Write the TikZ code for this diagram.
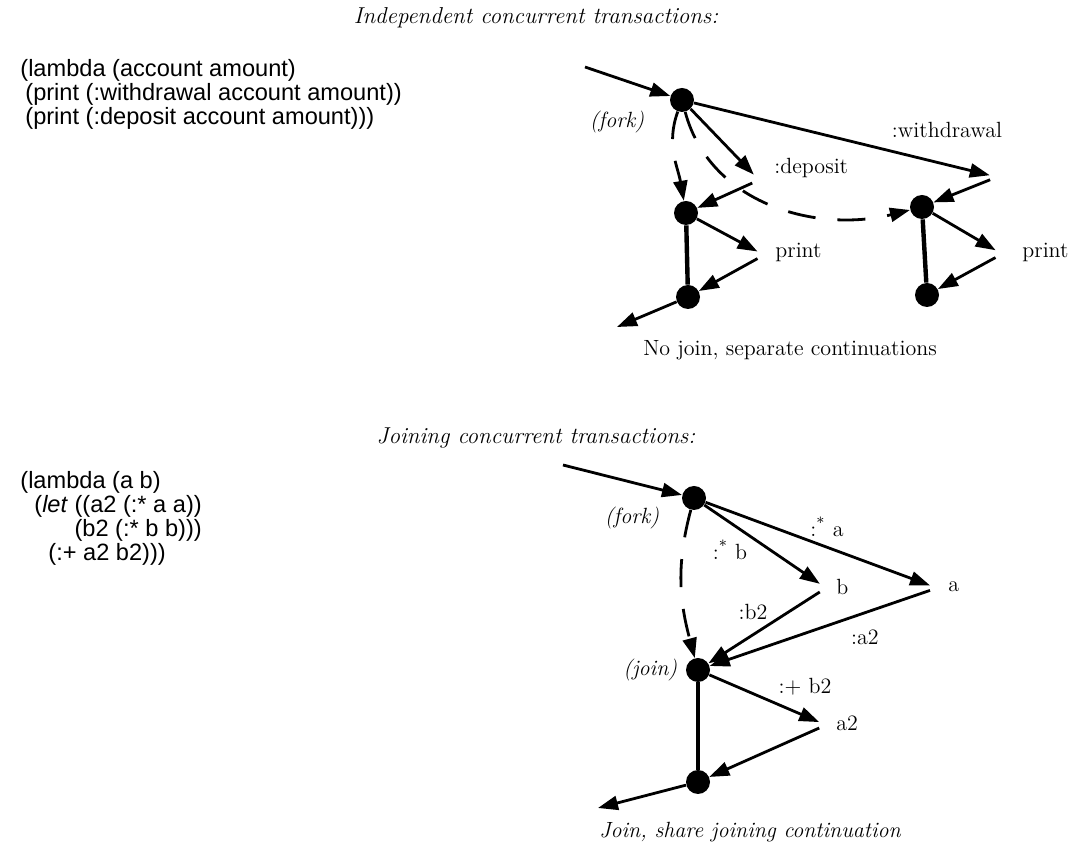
\documentclass[tikz,border=0pt]{standalone}
\usepackage{fontspec}
\newfontfamily\codefont{Liberation Sans}
\usetikzlibrary{arrows.meta,positioning}

\begin{document}
\begin{tikzpicture}[x=0.5pt, y=0.5pt,
  dot/.style={circle, fill, inner sep=0pt, minimum size=12pt},
  call/.style={circle, inner sep=0pt, minimum size=7pt},
  lbl/.style={font=\fontsize{11}{13}\selectfont, inner sep=1pt},
  ilbl/.style={lbl, font=\fontsize{11}{13}\selectfont\itshape},
  arr/.style={-{Triangle[length=10pt,width=7pt]}, line width=1.4pt},
  dsh/.style={arr, dash pattern=on 14pt off 11pt},
  thk/.style={line width=2.2pt},
  code/.style={font=\codefont\fontsize{11.8}{10.3}\selectfont,
               align=left, anchor=north west, inner sep=0pt},
  ttl/.style={font=\fontsize{11.5}{13}\selectfont\itshape},
]
  \useasboundingbox (0,0) rectangle (1073,847);

  % Independent transactions
  \node[ttl] (ttlA) at (536,829) {Independent concurrent transactions:};
  \node[code] (codeA) at (20,788) {(lambda (account amount)\\
    \hspace*{2.5pt}(print (:withdrawal account amount))\\
    \hspace*{2.5pt}(print (:deposit account amount)))};

  \coordinate (inA) at (585,780);
  \node[dot] (forkA) at (682,747) {};
  \node[ilbl] at (617,725) {(fork)};
  \node[dot] (depA) at (686,634) {};
  \node[dot] (depB) at (688,550) {};
  \node[dot] (wdA) at (922,640) {};
  \node[dot] (wdB) at (927,552) {};
  \coordinate (outA) at (617,520);

  \node[call] (dep) at (759,667) {};
  \node[lbl, anchor=west] at (772,679) {:deposit};
  \node[call] (wd) at (997,670) {};
  \node[lbl] at (947,717) {:withdrawal};
  \node[call] (prA) at (764,592) {};
  \node[lbl, anchor=west] at (773,595) {print};
  \node[call] (prB) at (1002,593) {};
  \node[lbl, anchor=west] at (1020,595) {print};

  \draw[arr] (inA) -- (forkA);
  \draw[arr] (forkA) -- (dep);
  \draw[arr] (forkA) -- (wd);
  \draw[arr] (dep) -- (depA);
  \draw[arr] (wd) -- (wdA);
  \draw[arr] (depA) -- (prA);
  \draw[arr] (prA) -- (depB);
  \draw[arr] (wdA) -- (prB);
  \draw[arr] (prB) -- (wdB);
  \draw[arr] (depB) -- (outA);
  \draw[thk] (depA) -- (depB);
  \draw[thk] (wdA) -- (wdB);
  \draw[dsh] (forkA) to[out=250, in=100] (depA);
  \draw[dsh] (forkA) to[out=285, in=194] (wdA);

  \node[lbl] at (790,497) {No join, separate continuations};

  % Joining transactions
  \node[ttl] (ttlB) at (536,409) {Joining concurrent transactions:};
  \node[code] (codeB) at (20,376) {(lambda (a b)\\
    \hspace*{7pt}(\textit{let} ((a2 (:* a a))\\
    \hspace*{7pt}\phantom{(\textit{let} }(b2 (:* b b)))\\
    \hspace*{14pt}(:+ a2 b2)))};

  \coordinate (inB) at (563,382);
  \node[dot] (forkB) at (694,349) {};
  \node[ilbl] at (632,329) {(fork)};
  \node[dot] (join) at (698,177) {};
  \node[ilbl, left=3pt of join] {(join)};
  \node[dot] (fin) at (698,65) {};
  \coordinate (outB) at (598,39);

  \node[call] (bb) at (826,259) {};
  \node[lbl, anchor=west] at (834,260) {b};
  \node[call] (aa) at (937,259) {};
  \node[lbl, anchor=west] at (946,260) {a};
  \node[call] (sq) at (826,122) {};
  \node[lbl, anchor=west] at (834,124) {a2};

  \node[lbl] at (827,320) {:\textsuperscript{*} a};
  \node[lbl] at (730,297) {:\textsuperscript{*} b};
  \node[lbl] at (753,235) {:b2};
  \node[lbl] at (865,210) {:a2};
  \node[lbl] at (805,160) {:+ b2};

  \draw[arr] (inB) -- (forkB);
  \draw[arr] (forkB) -- (bb);
  \draw[arr] (forkB) -- (aa);
  \draw[arr] (bb) -- (join);
  \draw[arr] (aa) -- (join);
  \draw[arr] (join) -- (sq);
  \draw[arr] (sq) -- (fin);
  \draw[arr] (fin) -- (outB);
  \draw[thk] (join) -- (fin);
  \draw[dsh] (forkB) to[out=255, in=105] (join);

  \node[ilbl] at (750,15) {Join, share joining continuation};
\end{tikzpicture}
\end{document}
